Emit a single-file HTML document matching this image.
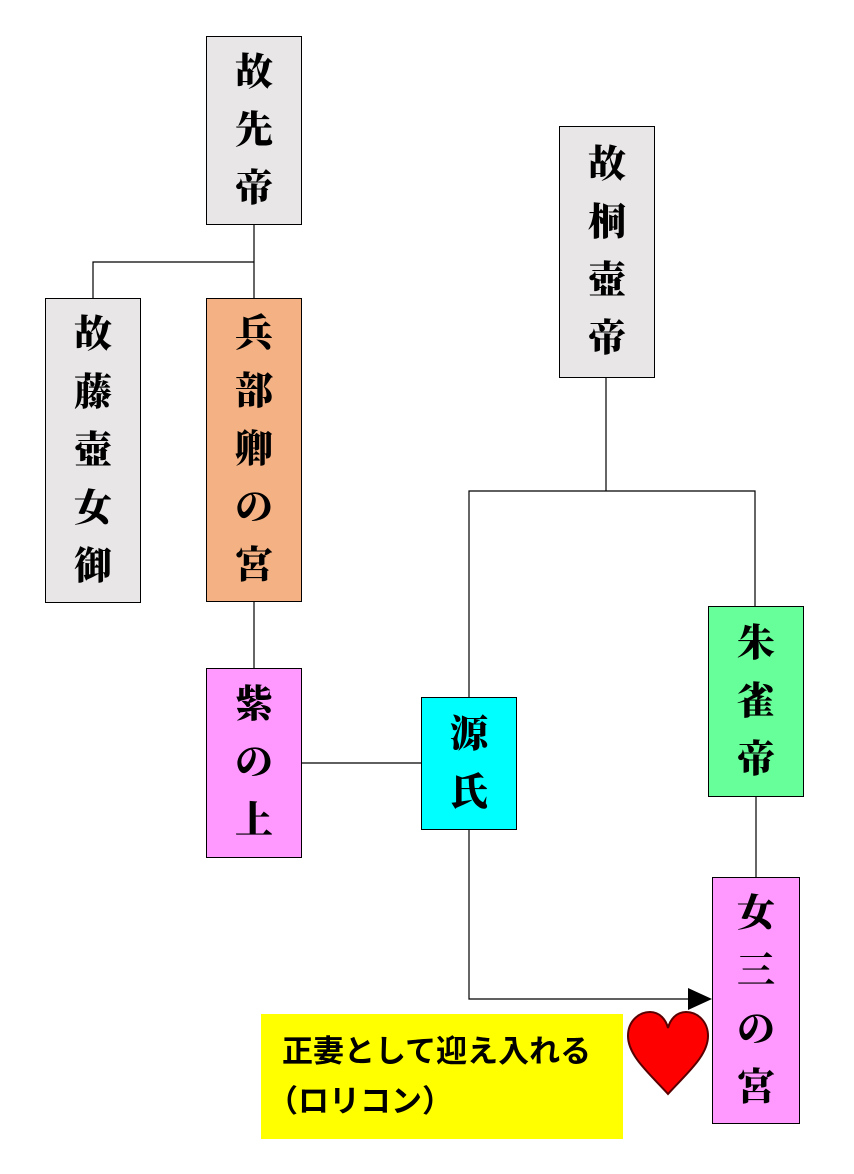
<!DOCTYPE html>
<html><head><meta charset="utf-8"><style>
body{margin:0;background:#fff;width:854px;height:1174px;position:relative;overflow:hidden}
.b{position:absolute;border:1.5px solid #000;box-sizing:border-box;display:flex;flex-direction:column;align-items:center;justify-content:center;font-family:"Liberation Serif","Noto Serif CJK JP",serif;font-weight:900;font-size:38px;line-height:58px;color:#000}
.g{background:#e8e6e6}
svg{position:absolute;left:0;top:0}
.y{position:absolute;left:261px;top:1014px;width:362px;height:125px;background:#ffff00;font-family:"Liberation Sans","Noto Sans CJK JP",sans-serif;font-weight:bold;font-size:31px;line-height:36px;color:#000}
</style></head><body>
<svg width="854" height="1174">
<g stroke="#000" stroke-width="1.2" fill="none">
<path d="M254 224V298M93 298V262H254M254 601V668M302 763H421M606 377V491M469 697V491H755V606M756 796V877M469 829V999H692"/>
</g>
<path d="M688 988L712 999L688 1010Z" fill="#000"/>
<path d="M668 1094C650 1074 628 1056 628 1036C628 1020 640 1012 650 1012C660 1012 666 1020 668 1028C670 1020 676 1012 686 1012C698 1012 708 1022 708 1036C708 1056 686 1074 668 1094Z" fill="#ff0000" stroke="#5a0000" stroke-width="2"/>
</svg>
<div class="b g" style="left:206px;top:36px;width:96px;height:189px"><span>故</span><span>先</span><span>帝</span></div>
<div class="b g" style="left:45px;top:298px;width:96px;height:305px"><span>故</span><span>藤</span><span>壺</span><span>女</span><span>御</span></div>
<div class="b" style="left:206px;top:298px;width:96px;height:304px;background:#f4b183"><span>兵</span><span>部</span><span>卿</span><span>の</span><span>宮</span></div>
<div class="b" style="left:206px;top:668px;width:96px;height:190px;background:#ff99ff"><span>紫</span><span>の</span><span>上</span></div>
<div class="b" style="left:421px;top:697px;width:96px;height:133px;background:#00ffff"><span>源</span><span>氏</span></div>
<div class="b g" style="left:559px;top:126px;width:96px;height:252px"><span>故</span><span>桐</span><span>壺</span><span>帝</span></div>
<div class="b" style="left:708px;top:606px;width:96px;height:191px;background:#66ff99"><span>朱</span><span>雀</span><span>帝</span></div>
<div class="b" style="left:712px;top:877px;width:88px;height:247px;background:#ff99ff"><span>女</span><span>三</span><span>の</span><span>宮</span></div>
<div class="y"><div style="position:absolute;left:21px;top:20px;white-space:nowrap">正妻として迎え入れる</div><div style="position:absolute;left:6px;top:70px;white-space:nowrap">（ロリコン）</div></div>
</body></html>
